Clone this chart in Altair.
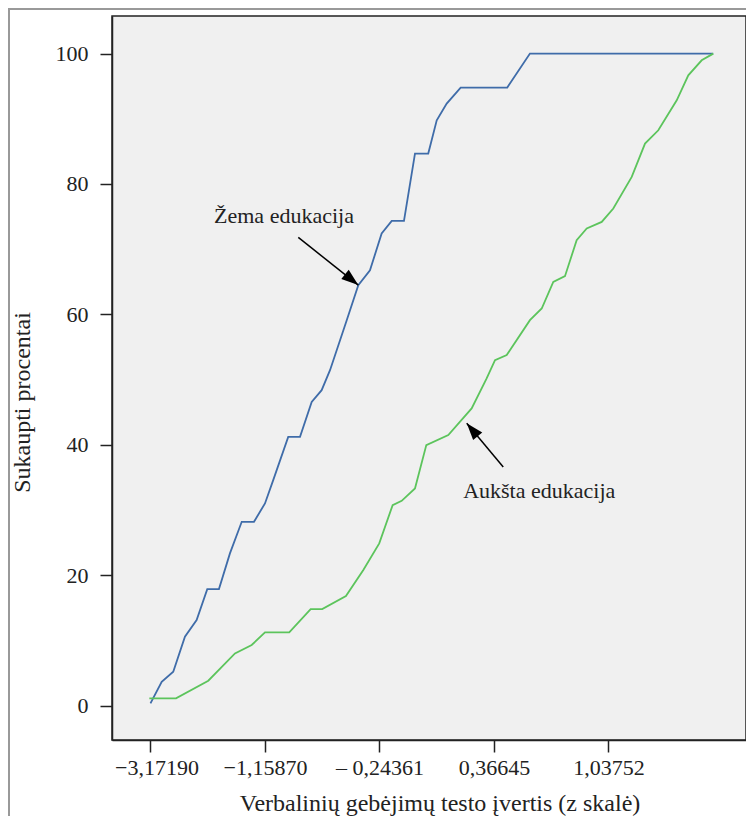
import altair as alt
import pandas as pd

# ---- axis ticks ----
y_ticks = [0, 20, 40, 60, 80, 100]
x_tick_pos = [0, 1, 2, 3, 4]
x_tick_labels = ["\u22123,17190", "\u22121,15870", "\u2013 0,24361", "0,36645", "1,03752"]

# ---- series (x in tick-index units, y in cumulative percent) ----
low_x = [0.0, 0.098, 0.199, 0.301, 0.403, 0.496, 0.598, 0.694, 0.797, 0.904, 1.0, 1.072,
         1.203, 1.306, 1.408, 1.495, 1.568, 1.714, 1.815, 1.917, 2.019, 2.107, 2.214,
         2.31, 2.426, 2.5, 2.587, 2.709, 3.116, 3.314, 4.915]
low_y = [0.34, 3.65, 5.18, 10.55, 13.11, 17.86, 17.86, 23.34, 28.18, 28.18, 31.0, 34.58,
         41.21, 41.21, 46.58, 48.37, 51.44, 59.1, 64.47, 66.77, 72.4, 74.33, 74.33,
         84.67, 84.67, 89.77, 92.33, 94.79, 94.79, 100.0, 100.0]

high_x = [-0.01, 0.223, 0.505, 0.738, 0.884, 1.0, 1.212, 1.399, 1.5, 1.707, 1.859, 1.998,
          2.115, 2.194, 2.31, 2.409, 2.601, 2.805, 2.936, 3.009, 3.111, 3.314, 3.417,
          3.518, 3.62, 3.722, 3.81, 3.941, 4.042, 4.203, 4.319, 4.435, 4.596, 4.697,
          4.814, 4.915]
high_y = [1.1, 1.1, 3.8, 8.0, 9.28, 11.22, 11.22, 14.8, 14.8, 16.79, 20.78, 24.87,
          30.74, 31.4, 33.3, 39.94, 41.48, 45.57, 50.17, 52.98, 53.75, 59.11, 60.9,
          64.98, 65.86, 71.37, 73.17, 74.18, 76.23, 81.08, 86.2, 88.24, 92.84, 96.67,
          98.97, 100.0]

series_names = ["\u017dema edukacija", "Auk\u0161ta edukacija"]
series_colors = ["#3f6ca9", "#5cc45c"]

# ---- annotations ----
ann_x = [1.166, 3.395]
ann_y = [74.0, 31.9]
arrow_x = [1.291, 3.081]
arrow_y = [71.8, 36.6]
arrow_tip_x = [1.815, 2.762]
arrow_tip_y = [64.5, 43.3]
arrow_angle = [128.5, 319.8]

FONT = "Liberation Serif, Times New Roman, serif"

rows = []
for i, (x, y) in enumerate(zip(low_x, low_y)):
    rows.append({"s": series_names[0], "x": x, "y": y, "i": i})
for i, (x, y) in enumerate(zip(high_x, high_y)):
    rows.append({"s": series_names[1], "x": x, "y": y, "i": i})
lines_df = pd.DataFrame(rows)

ann_df = pd.DataFrame({
    "t": series_names, "tx": ann_x, "ty": ann_y,
    "ax": arrow_x, "ay": arrow_y, "bx": arrow_tip_x, "by": arrow_tip_y,
    "ang": arrow_angle,
})

label_expr = "[" + ",".join("'" + l + "'" for l in x_tick_labels) + "][datum.value]"

xs = alt.Scale(domain=[-0.336, 5.201], nice=False, zero=False)
ys = alt.Scale(domain=[-5.29, 105.77], nice=False, zero=False)

x_axis = alt.Axis(values=x_tick_pos, labelExpr=label_expr,
                  title="Verbalinių gebėjimų testo įvertis (z skalė)",
                  titleX=327.5, titleY=70, titleBaseline="alphabetic",
                  titleFontSize=24, labelPadding=5,
                  labelOffset={"condition": {"test": "datum.value === 0", "value": 6}, "value": 0})
y_axis = alt.Axis(values=y_ticks, title="Sukaupti procentai",
                  titleX=-90, titleY=386, titleAngle=-90, titleBaseline="middle",
                  titleAlign="center", titleFontSize=24, labelPadding=12)

lines = alt.Chart(lines_df).mark_line(strokeWidth=1.8).encode(
    x=alt.X("x:Q", scale=xs, axis=x_axis),
    y=alt.Y("y:Q", scale=ys, axis=y_axis),
    color=alt.Color("s:N", scale=alt.Scale(domain=series_names, range=series_colors), legend=None),
    order="i:Q",
)

arrows = alt.Chart(ann_df).mark_rule(color="black", strokeWidth=1.5).encode(
    x=alt.X("ax:Q", scale=xs), y=alt.Y("ay:Q", scale=ys),
    x2="bx:Q", y2="by:Q",
)

heads = alt.Chart(ann_df).mark_point(
    shape="M0,0L0.7,2L-0.7,2Z", filled=True, color="black", opacity=1, size=289,
    strokeWidth=0,
).encode(
    x=alt.X("bx:Q", scale=xs), y=alt.Y("by:Q", scale=ys), angle=alt.Angle("ang:Q", scale=None),
)

texts = alt.Chart(ann_df).mark_text(font=FONT, fontSize=22, color="#222",
                                    align="center", baseline="alphabetic").encode(
    x=alt.X("tx:Q", scale=xs), y=alt.Y("ty:Q", scale=ys), text="t:N",
)

frame_df = pd.DataFrame({"k": [0]})
frame_v = alt.Chart(frame_df).mark_rule(color="#999999", strokeWidth=2).encode(
    x=alt.value(-103), y=alt.value(-7), y2=alt.value(900))
frame_h = alt.Chart(frame_df).mark_rule(color="#999999", strokeWidth=2).encode(
    x=alt.value(-104), x2=alt.value(700), y=alt.value(-7))

chart = alt.layer(lines, arrows, heads, texts, frame_v, frame_h).properties(
    width=634, height=724,
    autosize=alt.AutoSizeParams(type="none"),
    padding={"left": 104, "top": 8, "right": 0, "bottom": 76},
    background="white",
).configure_view(
    fill="#f0f0f0", stroke="#222222", strokeWidth=1.5,
).configure_axis(
    grid=False, domainColor="#222222", domainWidth=1.5, tickColor="#222222",
    tickWidth=1.5, tickSize=12, labelFont=FONT, labelFontSize=22, labelColor="#222222",
    titleFont=FONT, titleFontWeight="normal", titleColor="#222222",
)

chart.save("out.html", embed_options={"renderer": "svg", "actions": False})
